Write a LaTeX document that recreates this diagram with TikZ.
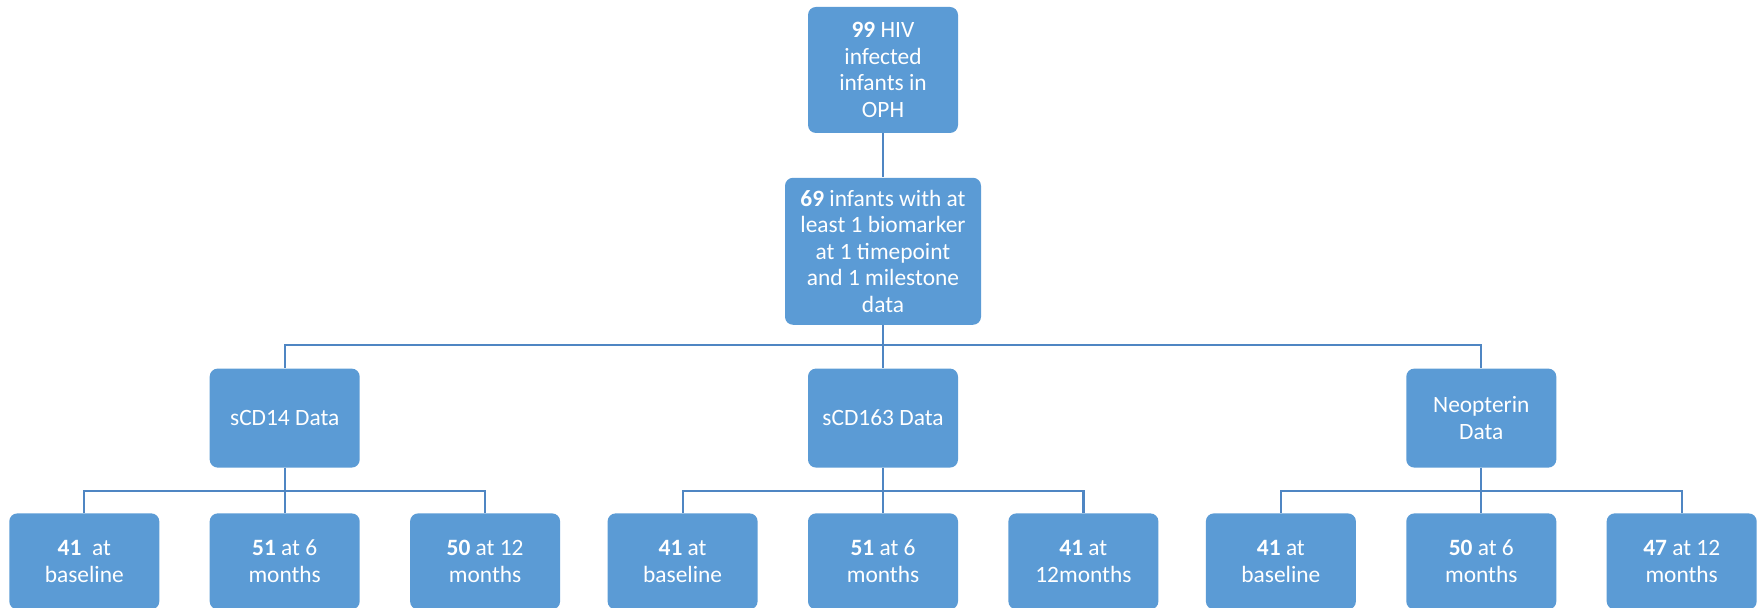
\documentclass[tikz,border=0pt]{standalone}
\usepackage{fontspec}
\setmainfont{Carlito}
\usetikzlibrary{positioning}
\definecolor{boxblue}{HTML}{5B9BD5}
\definecolor{lineblue}{HTML}{4F86C3}

\begin{document}
\begin{tikzpicture}[
        boxnode/.style={rectangle, rounded corners=4pt, fill=boxblue, text=white, align=center, inner sep=1pt, font=\fontsize{11.7}{13.3}\selectfont, minimum width=75pt},
        topnode/.style={boxnode, minimum height=63pt},
        studynode/.style={boxnode, minimum width=98pt, minimum height=73.5pt},
        datanode/.style={boxnode, minimum height=49.5pt},
        timenode/.style={boxnode, minimum height=48pt},
        link/.style={draw=lineblue, line width=1.1pt},
        ]
        \useasboundingbox (0,0) rectangle (879pt,-304pt);
        %Nodes
        \node[topnode] (00) at (441.5pt,-35pt) {\textbf{99} HIV\\infected\\infants in\\OPH};
        \node[studynode] [below= 22pt of 00] (10) {\textbf{69} infants with at\\least 1 biomarker\\at 1 timepoint\\and 1 milestone\\data};

        \node[datanode] [below= 21.5pt of 10] (21) {sCD163 Data};
        \node[datanode] [left= 223.75pt of 21] (20) {sCD14 Data};
        \node[datanode] [right= 223.75pt of 21] (22) {Neopterin\\Data};

        \node[timenode] [below= 22.5pt of 20] (31) {\textbf{51} at 6\\months};
        \node[timenode] [left= 24.8pt of 31] (30) {\textbf{41}~ at\\baseline};
        \node[timenode] [right= 24.8pt of 31] (32) {\textbf{50} at 12\\months};
        \node[timenode] [below= 22.5pt of 21] (34) {\textbf{51} at 6\\months};
        \node[timenode] [left= 24.8pt of 34] (33) {\textbf{41} at\\baseline};
        \node[timenode] [right= 24.8pt of 34] (35) {\textbf{41} at\\12months};
        \node[timenode] [below= 22.5pt of 22] (37) {\textbf{50} at 6\\months};
        \node[timenode] [left= 24.8pt of 37] (36) {\textbf{41} at\\baseline};
        \node[timenode] [right= 24.8pt of 37] (38) {\textbf{47} at 12\\months};

        %Lines
        \draw[link] (00) -- (10);
        \draw[link] (10.south) -- ++(0,-10pt) -| (20.north);
        \draw[link] (10.south) -- (21.north);
        \draw[link] (10.south) -- ++(0,-10pt) -| (22.north);

        \draw[link] (20.south) -- ++(0,-11.5pt) -| (30.north);
        \draw[link] (20.south) -- (31.north);
        \draw[link] (20.south) -- ++(0,-11.5pt) -| (32.north);
        \draw[link] (21.south) -- ++(0,-11.5pt) -| (33.north);
        \draw[link] (21.south) -- (34.north);
        \draw[link] (21.south) -- ++(0,-11.5pt) -| (35.north);
        \draw[link] (22.south) -- ++(0,-11.5pt) -| (36.north);
        \draw[link] (22.south) -- (37.north);
        \draw[link] (22.south) -- ++(0,-11.5pt) -| (38.north);
\end{tikzpicture}
\end{document}
